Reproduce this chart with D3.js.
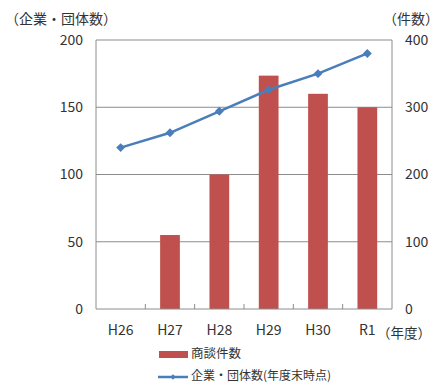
<!DOCTYPE html>
<html><head><meta charset="utf-8">
<script src="https://cdn.jsdelivr.net/npm/d3@7"></script>
<style>
body{margin:0;background:#fff;}
text{font-family:"Noto Sans CJK JP","Noto Sans",sans-serif;fill:#333;}
</style></head>
<body><svg id="c" width="439" height="383"></svg>
<script>
const categories = ["H26","H27","H28","H29","H30","R1"];
const meetings = [0,110,200,347,320,300];        // 商談件数 (right axis)
const companies = [120,131,147,163,175,190];     // 企業・団体数 (left axis)
const leftTicks = [0,50,100,150,200];
const rightTicks = [0,100,200,300,400];

const svg = d3.select("#c");
const L=96,R=392,T=40,B=309;
const x = d3.scaleBand().domain(categories).range([L,R]).paddingInner(0).paddingOuter(0);
const yL = d3.scaleLinear().domain([0,200]).range([B,T]);
const yR = d3.scaleLinear().domain([0,400]).range([B,T]);
const grid="#8c8c8c";

// gridlines
svg.append("g").selectAll("line").data(leftTicks.filter(d=>d>0)).join("line")
 .attr("x1",L).attr("x2",R).attr("y1",d=>yL(d)).attr("y2",d=>yL(d))
 .attr("stroke",grid).attr("stroke-width",1);

// bars
const bw = x.bandwidth()*0.4;
svg.append("g").selectAll("rect").data(categories.map((c,i)=>({c,v:meetings[i]})).filter(d=>d.v>0)).join("rect")
 .attr("x",d=>x(d.c)+x.bandwidth()/2-bw/2).attr("width",bw)
 .attr("y",d=>yR(d.v)).attr("height",d=>yR(0)-yR(d.v))
 .attr("fill","#C0504D");

// axes lines
svg.append("line").attr("x1",L).attr("x2",L).attr("y1",T).attr("y2",B).attr("stroke",grid);
svg.append("line").attr("x1",R).attr("x2",R).attr("y1",T).attr("y2",B).attr("stroke",grid);
svg.append("line").attr("x1",L).attr("x2",R).attr("y1",B).attr("y2",B).attr("stroke",grid);
// category ticks (inside)
svg.append("g").selectAll("line").data(categories.slice(1)).join("line")
 .attr("x1",d=>x(d)).attr("x2",d=>x(d)).attr("y1",B).attr("y2",B-5).attr("stroke",grid);

// line
const pts = categories.map((c,i)=>[x(c)+x.bandwidth()/2, yL(companies[i])]);
svg.append("path").attr("d",d3.line()(pts)).attr("fill","none").attr("stroke","#4A7EBB").attr("stroke-width",2.5);
svg.append("g").selectAll("path").data(pts).join("path")
 .attr("transform",d=>`translate(${d[0]},${d[1]}) rotate(45)`)
 .attr("d",d3.symbol().type(d3.symbolSquare).size(40)).attr("fill","#4A7EBB");

// tick labels
const fs=14;
svg.append("g").selectAll("text").data(leftTicks).join("text")
 .attr("x",83).attr("y",d=>yL(d)).attr("dy","0.35em").attr("text-anchor","end")
 .attr("font-size",fs).text(d=>d);
svg.append("g").selectAll("text").data(rightTicks).join("text")
 .attr("x",405).attr("y",d=>yR(d)).attr("dy","0.35em").attr("text-anchor","start")
 .attr("font-size",fs).text(d=>d);
svg.append("g").selectAll("text").data(categories).join("text")
 .attr("x",d=>x(d)+x.bandwidth()/2).attr("y",330).attr("dy","0.35em").attr("text-anchor","middle")
 .attr("font-size",fs).text(d=>d);

svg.append("text").attr("x",5).attr("y",19).attr("dy","0.35em").attr("font-size",fs).text("（企業・団体数）");
svg.append("text").attr("x",439).attr("y",19).attr("dy","0.35em").attr("text-anchor","end").attr("font-size",fs).text("（件数）");
svg.append("text").attr("x",377).attr("y",333).attr("dy","0.35em").attr("font-size",13.5).text("（年度）");

// legend
svg.append("rect").attr("x",159).attr("y",351).attr("width",29).attr("height",7).attr("fill","#C0504D");
svg.append("text").attr("x",191).attr("y",354).attr("dy","0.35em").attr("font-size",12.5).text("商談件数");
svg.append("line").attr("x1",158).attr("x2",188).attr("y1",377).attr("y2",377).attr("stroke","#4A7EBB").attr("stroke-width",2.5);
svg.append("path").attr("transform","translate(173,377) rotate(45)").attr("d",d3.symbol().type(d3.symbolSquare).size(14)).attr("fill","#4A7EBB");
svg.append("text").attr("x",191).attr("y",376).attr("dy","0.35em").attr("font-size",12).text("企業・団体数(年度末時点)");
</script></body></html>
